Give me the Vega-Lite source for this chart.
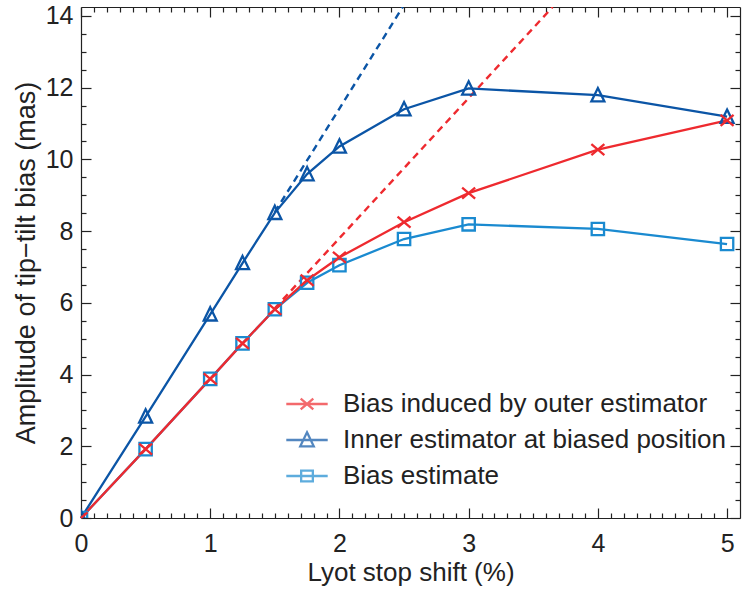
{
  "$schema": "https://vega.github.io/schema/vega-lite/v6.json",
  "width": 659,
  "height": 511,
  "autosize": {"type": "none"},
  "padding": {"left": 81, "top": 7, "right": 7, "bottom": 73},
  "background": "white",
  "config": {
    "view": {"stroke": null},
    "font": "Liberation Sans",
    "axis": {
      "grid": false,
      "domainColor": "#222222",
      "domainWidth": 1.2,
      "tickColor": "#222222",
      "tickWidth": 1.2,
      "labelColor": "#222222",
      "titleColor": "#222222",
      "labelFont": "Liberation Sans",
      "titleFont": "Liberation Sans",
      "titleFontWeight": "normal",
      "labelFlush": false
    }
  },
  "datasets": {
    "curves": [
      {"series": "Bias estimate", "shift": 0, "bias": 0},
      {"series": "Bias estimate", "shift": 0.5, "bias": 1.92},
      {"series": "Bias estimate", "shift": 1, "bias": 3.88},
      {"series": "Bias estimate", "shift": 1.25, "bias": 4.87},
      {"series": "Bias estimate", "shift": 1.5, "bias": 5.82},
      {"series": "Bias estimate", "shift": 1.75, "bias": 6.56},
      {"series": "Bias estimate", "shift": 2, "bias": 7.05},
      {"series": "Bias estimate", "shift": 2.5, "bias": 7.78},
      {"series": "Bias estimate", "shift": 3, "bias": 8.19},
      {"series": "Bias estimate", "shift": 4, "bias": 8.06},
      {"series": "Bias estimate", "shift": 5, "bias": 7.64},
      {"series": "Inner estimator at biased position", "shift": 0, "bias": 0},
      {"series": "Inner estimator at biased position", "shift": 0.5, "bias": 2.83},
      {"series": "Inner estimator at biased position", "shift": 1, "bias": 5.68},
      {"series": "Inner estimator at biased position", "shift": 1.25, "bias": 7.11},
      {"series": "Inner estimator at biased position", "shift": 1.5, "bias": 8.51},
      {"series": "Inner estimator at biased position", "shift": 1.75, "bias": 9.59},
      {"series": "Inner estimator at biased position", "shift": 2, "bias": 10.36},
      {"series": "Inner estimator at biased position", "shift": 2.5, "bias": 11.4},
      {"series": "Inner estimator at biased position", "shift": 3, "bias": 11.98},
      {"series": "Inner estimator at biased position", "shift": 4, "bias": 11.79},
      {"series": "Inner estimator at biased position", "shift": 5, "bias": 11.19},
      {"series": "Bias induced by outer estimator", "shift": 0, "bias": 0},
      {"series": "Bias induced by outer estimator", "shift": 0.5, "bias": 1.92},
      {"series": "Bias induced by outer estimator", "shift": 1, "bias": 3.88},
      {"series": "Bias induced by outer estimator", "shift": 1.25, "bias": 4.87},
      {"series": "Bias induced by outer estimator", "shift": 1.5, "bias": 5.82},
      {"series": "Bias induced by outer estimator", "shift": 1.75, "bias": 6.63},
      {"series": "Bias induced by outer estimator", "shift": 2, "bias": 7.27},
      {"series": "Bias induced by outer estimator", "shift": 2.5, "bias": 8.25},
      {"series": "Bias induced by outer estimator", "shift": 3, "bias": 9.06},
      {"series": "Bias induced by outer estimator", "shift": 4, "bias": 10.27},
      {"series": "Bias induced by outer estimator", "shift": 5, "bias": 11.09}
    ],
    "fits": [
      {"series": "Inner estimator at biased position", "shift": 1.5, "bias": 8.53},
      {"series": "Inner estimator at biased position", "shift": 2.49, "bias": 14.25},
      {"series": "Bias induced by outer estimator", "shift": 1.5, "bias": 5.85},
      {"series": "Bias induced by outer estimator", "shift": 3.65, "bias": 14.25}
    ]
  },
  "layer": [
    {
      "data": {"name": "fits"},
      "mark": {"type": "line", "strokeDash": [7, 5], "strokeWidth": 2.4, "clip": true},
      "encoding": {
        "x": {
          "field": "shift", "type": "quantitative",
          "scale": {"domain": [0, 5.1], "nice": false, "zero": false},
          "axis": {"orient": "top", "values": [0, 1, 2, 3, 4, 5], "tickSize": -10, "labels": false, "title": null, "domain": true}
        },
        "y": {
          "field": "bias", "type": "quantitative",
          "scale": {"domain": [0, 14.25], "nice": false, "zero": false},
          "axis": {"orient": "right", "values": [0, 2, 4, 6, 8, 10, 12, 14], "tickSize": -10, "labels": false, "title": null, "domain": true}
        },
        "color": {
          "field": "series", "type": "nominal", "legend": null,
          "scale": {
            "domain": ["Bias induced by outer estimator", "Inner estimator at biased position", "Bias estimate"],
            "range": ["#ee2a2f", "#0b55a6", "#1a8ad0"]
          }
        }
      }
    },
    {
      "data": {"name": "curves"},
      "mark": {"type": "line", "strokeWidth": 2.3},
      "encoding": {
        "x": {
          "field": "shift", "type": "quantitative",
          "scale": {"domain": [0, 5.1], "nice": false, "zero": false},
          "axis": {"orient": "bottom", "values": [0, 1, 2, 3, 4, 5], "tickSize": -10, "labelPadding": 23, "labelFontSize": 25, "title": "Lyot stop shift (%)", "titleFontSize": 26, "titlePadding": 3, "domain": true}
        },
        "y": {
          "field": "bias", "type": "quantitative",
          "scale": {"domain": [0, 14.25], "nice": false, "zero": false},
          "axis": {"orient": "left", "values": [0, 2, 4, 6, 8, 10, 12, 14], "tickSize": -10, "labelPadding": 18, "labelFontSize": 25, "title": "Amplitude of tip−tilt bias (mas)", "titleFontSize": 27, "titlePadding": 5, "domain": true}
        },
        "color": {
          "field": "series", "type": "nominal", "legend": null,
          "scale": {
            "domain": ["Bias induced by outer estimator", "Inner estimator at biased position", "Bias estimate"],
            "range": ["#ee2a2f", "#0b55a6", "#1a8ad0"]
          }
        }
      }
    },
    {
      "data": {"name": "curves"},
      "mark": {"type": "point", "filled": false, "strokeWidth": 2.3, "size": 169, "opacity": 1, "clip": true},
      "encoding": {
        "x": {
          "field": "shift", "type": "quantitative",
          "scale": {"domain": [0, 5.1], "nice": false, "zero": false},
          "axis": {"orient": "bottom", "values": [0.1, 0.2, 0.3, 0.4, 0.5, 0.6, 0.7, 0.8, 0.9, 1.1, 1.2, 1.3, 1.4, 1.5, 1.6, 1.7, 1.8, 1.9, 2.1, 2.2, 2.3, 2.4, 2.5, 2.6, 2.7, 2.8, 2.9, 3.1, 3.2, 3.3, 3.4, 3.5, 3.6, 3.7, 3.8, 3.9, 4.1, 4.2, 4.3, 4.4, 4.5, 4.6, 4.7, 4.8, 4.9], "tickSize": -5, "labels": false, "title": null, "domain": false}
        },
        "y": {
          "field": "bias", "type": "quantitative",
          "scale": {"domain": [0, 14.25], "nice": false, "zero": false},
          "axis": {"orient": "left", "values": [0.5, 1, 1.5, 2.5, 3, 3.5, 4.5, 5, 5.5, 6.5, 7, 7.5, 8.5, 9, 9.5, 10.5, 11, 11.5, 12.5, 13, 13.5], "tickSize": -5, "labels": false, "title": null, "domain": false}
        },
        "color": {
          "field": "series", "type": "nominal", "legend": null,
          "scale": {
            "domain": ["Bias induced by outer estimator", "Inner estimator at biased position", "Bias estimate"],
            "range": ["#ee2a2f", "#0b55a6", "#1a8ad0"]
          }
        },
        "shape": {
          "field": "series", "type": "nominal", "legend": null,
          "scale": {
            "domain": ["Bias induced by outer estimator", "Inner estimator at biased position", "Bias estimate"],
            "range": ["M-1,-0.85L1,0.85M-1,0.85L1,-0.85", "M0,-1.1L1,0.95H-1Z", "M-0.95,-0.95H0.95V0.95H-0.95Z"]
          }
        }
      }
    },
    {
      "data": {"name": "curves"},
      "transform": [{"filter": "false"}],
      "mark": {"type": "point", "filled": false, "strokeWidth": 2.3},
      "encoding": {
        "x": {
          "field": "shift", "type": "quantitative",
          "scale": {"domain": [0, 5.1], "nice": false, "zero": false},
          "axis": {"orient": "top", "values": [0.1, 0.2, 0.3, 0.4, 0.5, 0.6, 0.7, 0.8, 0.9, 1.1, 1.2, 1.3, 1.4, 1.5, 1.6, 1.7, 1.8, 1.9, 2.1, 2.2, 2.3, 2.4, 2.5, 2.6, 2.7, 2.8, 2.9, 3.1, 3.2, 3.3, 3.4, 3.5, 3.6, 3.7, 3.8, 3.9, 4.1, 4.2, 4.3, 4.4, 4.5, 4.6, 4.7, 4.8, 4.9], "tickSize": -5, "labels": false, "title": null, "domain": false}
        },
        "y": {
          "field": "bias", "type": "quantitative",
          "scale": {"domain": [0, 14.25], "nice": false, "zero": false},
          "axis": {"orient": "right", "values": [0.5, 1, 1.5, 2.5, 3, 3.5, 4.5, 5, 5.5, 6.5, 7, 7.5, 8.5, 9, 9.5, 10.5, 11, 11.5, 12.5, 13, 13.5], "tickSize": -5, "labels": false, "title": null, "domain": false}
        },
        "color": {
          "field": "series", "type": "nominal",
          "scale": {
            "domain": ["Bias induced by outer estimator", "Inner estimator at biased position", "Bias estimate"],
            "range": ["#ee2a2f", "#0b55a6", "#1a8ad0"]
          },
          "legend": {"orient": "none", "legendX": 213, "legendY": 384, "title": null, "padding": 0, "labelFont": "Liberation Sans", "labelFontSize": 26, "labelColor": "#222222", "labelLimit": 0, "symbolSize": 324, "symbolStrokeWidth": 2.3, "labelOffset": 23, "rowPadding": 10}
        },
        "shape": {
          "field": "series", "type": "nominal",
          "scale": {
            "domain": ["Bias induced by outer estimator", "Inner estimator at biased position", "Bias estimate"],
            "range": ["M-2.3,0H2.3M-0.7,-0.6L0.7,0.6M-0.7,0.6L0.7,-0.6", "M-2.3,0H2.3M0,-0.85L0.75,0.7H-0.75Z", "M-2.3,0H2.3M-0.65,-0.6H0.65V0.6H-0.65Z"]
          },
          "legend": {"orient": "none", "legendX": 213, "legendY": 384, "title": null, "padding": 0, "labelFont": "Liberation Sans", "labelFontSize": 26, "labelColor": "#222222", "labelLimit": 0, "symbolSize": 324, "symbolStrokeWidth": 2.3, "labelOffset": 23, "rowPadding": 10}
        }
      }
    }
  ],
  "resolve": {
    "scale": {"color": "independent", "shape": "independent"},
    "axis": {"x": "independent", "y": "independent"},
    "legend": {"color": "independent", "shape": "independent"}
  }
}
